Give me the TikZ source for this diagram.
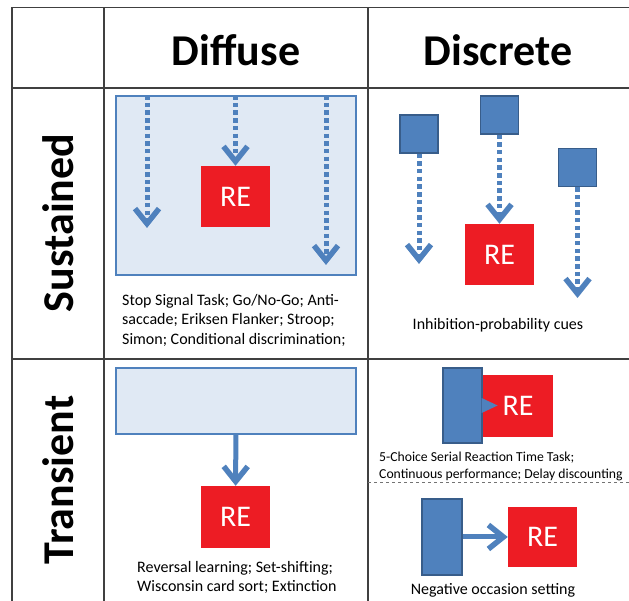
\documentclass[tikz,border=0pt]{standalone}
\usepackage{fontspec}
\setmainfont{Carlito}
\usetikzlibrary{arrows.meta}
\definecolor{cueblue}{HTML}{4F81BD}
\definecolor{cueedge}{HTML}{385D8A}
\definecolor{rered}{HTML}{ED1C24}
\definecolor{ctxfill}{HTML}{E0E9F4}
\begin{document}
\begin{tikzpicture}[x=1pt,y=1pt,
  gridline/.style={line width=1.3pt,black!75},
  re/.style={fill=rered,text=white,minimum width=69pt,minimum height=61pt,inner sep=0pt,font=\fontsize{30}{30}\selectfont},
  cue/.style={fill=cueblue,draw=cueedge,line width=1.2pt,inner sep=0pt},
  context/.style={fill=ctxfill,draw=cueblue,line width=1.8pt,inner sep=0pt,minimum width=240pt},
  dotarrow/.style={cueblue,line width=5pt,dash pattern=on 4.5pt off 3.2pt,-{Straight Barb[length=15pt,width=24pt,line width=5.5pt]}},
  solidarrow/.style={cueblue,line width=5pt,-{Straight Barb[length=15pt,width=24pt,line width=5.5pt]}},
  head/.style={font=\fontsize{44}{44}\selectfont\bfseries},
  caption/.style={font=\fontsize{16}{19.5}\selectfont,align=left,inner sep=0pt}]
\useasboundingbox (0,0) rectangle (629,601);

% table lines
\draw[gridline] (12,593.5) -- (629,593.5);
\foreach \y in {513,242} \draw[gridline] (12,\y) -- (629,\y);
\foreach \x in {12,104,368} \draw[gridline] (\x,593.5) -- (\x,0);
\draw[black!55,line width=1pt,dashed] (368,118) -- (629,118); % splits transient/discrete

% headers
\node[head] (diffuse) at (236,551) {Diffuse};
\node[head] (discrete) at (498,551) {Discrete};
\node[head,rotate=90] (sustained) at (58,378) {Sustained};
\node[head,rotate=90] (transient) at (58,121) {Transient};

% sustained / diffuse
\node[context,minimum height=179pt] (ctxA) at (236,415.5) {};
\node[re] (reA) at (235.5,404.5) {RE};
\coordinate (endA1) at (147,373);
\coordinate (endA3) at (326,336);
\draw[dotarrow] (endA1 |- ctxA.north) -- (endA1);
\draw[dotarrow] (reA.north |- ctxA.north) -- (reA.north);
\draw[dotarrow] (endA3 |- ctxA.north) -- (endA3);
\node[caption,anchor=north west] (txtA) at (122,307)
  {Stop Signal Task; Go/No-Go; Anti-\\saccade; Eriksen Flanker; Stroop;\\Simon; Conditional discrimination;};

% sustained / discrete
\node[cue,minimum size=38pt] (cueB1) at (419,467) {};
\node[cue,minimum size=38pt] (cueB2) at (499.5,486) {};
\node[cue,minimum size=38pt] (cueB3) at (577.5,433.5) {};
\node[re] (reB) at (499.5,346.5) {RE};
\coordinate (endB1) at (419,337);
\coordinate (endB3) at (577.5,303);
\draw[dotarrow] (cueB1) -- (endB1);
\draw[dotarrow] (cueB2) -- (reB);
\draw[dotarrow] (cueB3) -- (endB3);
\node[caption] (txtB) at (498,276) {Inhibition-probability cues};

% transient / diffuse
\node[context,minimum height=66pt] (ctxC) at (236,200) {};
\node[re,minimum height=62pt] (reC) at (235.5,84) {RE};
\draw[solidarrow] (ctxC) -- (reC);
\node[caption,anchor=north west] (txtC) at (137,40)
  {Reversal learning; Set-shifting;\\Wisconsin card sort; Extinction};

% transient / discrete
\node[re,minimum width=70pt,minimum height=62pt] (reD1) at (518,195) {RE};
\node[cue,minimum width=39pt,minimum height=75pt] (cueD1) at (462.5,195.5) {};
\fill[cueblue] (cueD1.east) ++(-1,7.5) -- ++(16,-7.5) -- ++(-16,-7.5) -- cycle;
\node[caption,anchor=north west,font=\fontsize{13.7}{17}\selectfont] (txtD1) at (379,149)
  {5-Choice Serial Reaction Time Task;\\Continuous performance; Delay discounting};
\node[cue,minimum width=40pt,minimum height=76pt] (cueD2) at (442,64) {};
\node[re,minimum height=60pt] (reD2) at (542.5,64) {RE};
\draw[solidarrow] (cueD2) -- (reD2);
\node[caption] (txtD2) at (493,11) {Negative occasion setting};
\end{tikzpicture}
\end{document}
